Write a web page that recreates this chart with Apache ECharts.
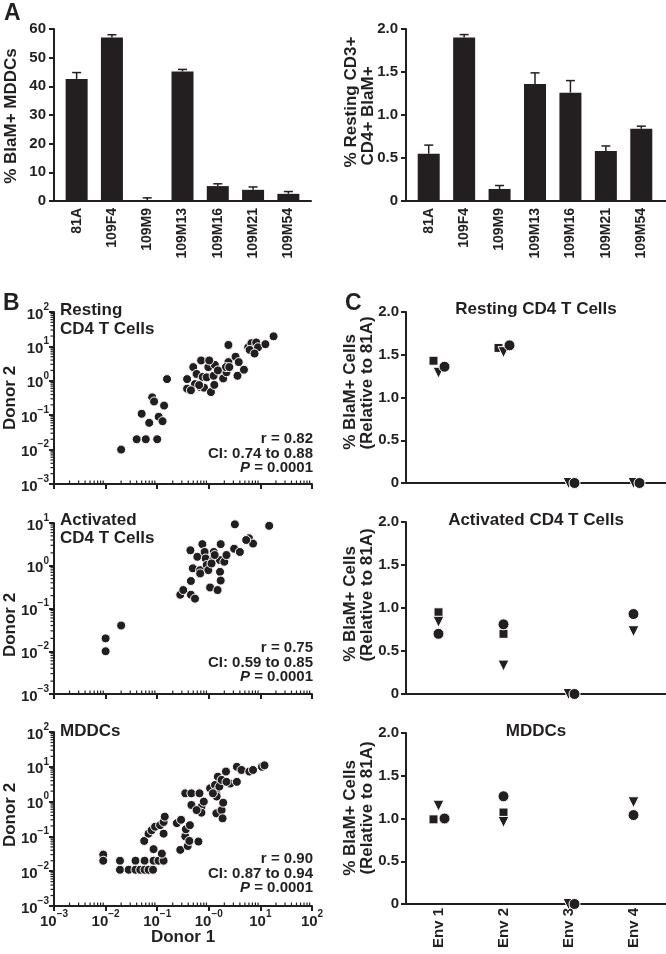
<!DOCTYPE html>
<html><head><meta charset="utf-8">
<script src="https://cdn.jsdelivr.net/npm/echarts@6/dist/echarts.min.js"></script>
<style>html,body{margin:0;padding:0;background:#fff}#c{width:666px;height:954px}</style>
</head><body><div id="c"></div><script>
const FONT = '"Liberation Sans", Arial, Helvetica, sans-serif';
const INK = '#231f20';

// ---- Panel A ----
const strains = ['81A','109F4','109M9','109M13','109M16','109M21','109M54'];
const mddcMean = [42.6, 57.0, 0.2, 45.2, 5.2, 3.9, 2.5];
const mddcSem  = [2.2, 1.0, 0.9, 0.7, 0.8, 1.0, 0.8];
const restMean = [0.55, 1.90, 0.14, 1.36, 1.26, 0.58, 0.84];
const restSem  = [0.10, 0.035, 0.04, 0.13, 0.14, 0.06, 0.03];

// ---- Panel B ----
const xSup = ['\u22123','\u22122','\u22121','\u22120','1','2'];
const ySup = ['\u22123','\u22122','\u22121','0','1','2'];
const restD1 = [0.02,0.04,0.06,0.10,0.05,0.07,0.08,0.087,0.107,0.127,0.136,0.155,0.38,0.38,0.5,0.71,0.58,0.76,0.68,0.54,0.98,0.91,0.81,1.1,1.28,1.31,1.02,1.9,2.2,2.4,2.4,2.15,3.3,3.6,3.8,4.8,5.8,6.7,7.2,8.3,9,12.5,18,6.2,7.7,1.24,1.5,2.5,0.45,0.65];
const restD2 = [0.01,0.02,0.02,0.02,0.11,0.06,0.33,0.25,0.09,0.067,0.19,1.12,1.12,0.59,2.5,3.9,1.58,1.3,0.66,0.8,2.5,1.26,0.63,0.47,0.76,2.9,3.9,1.17,1.77,11,3.5,2.5,5,1.4,3.5,2.1,9.4,12.4,8.2,13,9.4,11.6,19.6,7.9,6.2,1.4,2.0,2.5,0.53,0.75];
const actD1 = [0.01,0.01,0.02,0.28,0.32,0.45,0.54,0.45,0.44,0.49,0.6,0.68,0.75,0.83,0.87,0.91,0.98,1.06,1.25,1.22,1.64,1.7,1.65,1.7,1.48,2.0,2.2,3.2,3.1,4.0,6.0,7.2,14.8,1.3,1.13,0.68,5.3];
const actD2 = [0.02,0.01,0.04,0.21,0.27,0.21,0.17,0.44,2.3,0.87,1.62,0.79,3.2,2.1,1.48,1.04,0.79,0.31,2.1,1.36,1.36,3.2,0.72,0.45,0.27,1.24,1.78,9.3,2.5,2.1,4.4,3.3,8.6,1.78,1.13,0.66,4.0];
const mddcD1 = [0.009,0.009,0.019,0.019,0.028,0.038,0.038,0.047,0.057,0.057,0.068,0.083,0.085,0.106,0.133,0.123,0.085,0.056,0.068,0.078,0.091,0.114,0.133,0.14,0.133,0.28,0.24,0.29,0.35,0.36,0.39,0.43,0.42,0.35,0.46,0.46,0.66,0.72,0.72,0.8,0.63,1.06,1.32,1.5,1.37,1.42,1.6,1.77,1.4,1.77,1.9,1.85,2.15,2.6,3.5,3.5,4.3,6.1,7.2,10.7,12,2.2,1.2,0.58];
const mddcD2 = [0.03,0.02,0.02,0.011,0.011,0.02,0.011,0.011,0.02,0.011,0.011,0.011,0.02,0.02,0.02,0.032,0.043,0.074,0.12,0.15,0.19,0.21,0.26,0.37,0.12,0.041,0.24,0.3,0.1,0.16,0.053,0.21,0.074,1.73,1.73,0.8,1.73,0.71,0.48,1.0,0.071,2.4,3.0,5.2,1.9,1.4,2.7,4.2,0.46,0.57,0.93,0.33,7.3,3.3,10,3.7,8.1,7.3,8.1,10,11,3.7,1.73,0.57];
const statsB = [['r = 0.82','CI: 0.74 to 0.88'],['r = 0.75','CI: 0.59 to 0.85'],['r = 0.90','CI: 0.87 to 0.94']];

// ---- Panel C ----
const envs = ['Env 1','Env 2','Env 3','Env 4'];
const cRestSq  = [1.43, 1.58, null, null];
const cRestTri = [1.29, 1.53, 0, 0];
const cRestCir = [1.36, 1.61, 0, 0];
const cActSq   = [0.95, 0.70, null, null];
const cActTri  = [0.84, 0.33, 0, 0.73];
const cActCir  = [0.70, 0.81, 0, 0.93];
const cMddSq   = [0.99, 1.07, null, null];
const cMddTri  = [1.15, 0.96, 0, 1.19];
const cMddCir  = [1.00, 1.26, 0, 1.04];

const txt = (size, extra) => Object.assign({fontFamily: FONT, fontWeight: 'bold', fontSize: size, color: INK}, extra || {});
const axLine = {show: true, lineStyle: {color: INK, width: 2}};
const fmt1 = v => v === 0 ? '0' : v.toFixed(1);

const grids = [
  {left: 54, top: 29, width: 257, height: 172},   // 0 deco A left
  {left: 59, top: 29, width: 247, height: 172},   // 1 bars A left
  {left: 406, top: 29, width: 260, height: 172},  // 2 deco A right
  {left: 411, top: 29, width: 248, height: 172},  // 3 bars A right
  {left: 54, top: 312, width: 258, height: 172},  // 4 B1
  {left: 54, top: 523, width: 258, height: 171},  // 5 B2
  {left: 54, top: 732, width: 258, height: 174},  // 6 B3
  {left: 406, top: 312, width: 262, height: 171}, // 7 C1
  {left: 406, top: 522, width: 262, height: 172}, // 8 C2
  {left: 406, top: 733, width: 262, height: 171}  // 9 C3
];

const xAxes = [], yAxes = [];
// A left
xAxes.push({gridIndex: 0, type: 'value', min: 0, max: 1, axisLine: axLine, axisTick: {show: false}, axisLabel: {show: false}, splitLine: {show: false}});
yAxes.push({gridIndex: 0, type: 'value', min: 0, max: 60, interval: 10, axisLine: axLine, axisTick: {show: true, length: 5, lineStyle: {width: 2, color: INK}}, axisLabel: txt(15, {margin: 8}), splitLine: {show: false}});
xAxes.push({gridIndex: 1, type: 'category', data: strains, axisLine: {show: false}, axisTick: {show: false}, axisLabel: txt(14, {rotate: 90, margin: 7, interval: 0})});
yAxes.push({gridIndex: 1, type: 'value', min: 0, max: 60, show: false});
// A right
xAxes.push({gridIndex: 2, type: 'value', min: 0, max: 1, axisLine: axLine, axisTick: {show: false}, axisLabel: {show: false}, splitLine: {show: false}});
yAxes.push({gridIndex: 2, type: 'value', min: 0, max: 2, interval: 0.5, axisLine: axLine, axisTick: {show: true, length: 5, lineStyle: {width: 2, color: INK}}, axisLabel: txt(15, {margin: 8, formatter: fmt1}), splitLine: {show: false}});
xAxes.push({gridIndex: 3, type: 'category', data: strains, axisLine: {show: false}, axisTick: {show: false}, axisLabel: txt(14, {rotate: 90, margin: 7, interval: 0})});
yAxes.push({gridIndex: 3, type: 'value', min: 0, max: 2, show: false});

// B
const supRich = {
  b: {fontFamily: FONT, fontWeight: 'bold', fontSize: 15, color: INK, verticalAlign: 'bottom', padding: [5, 0, 0, 0]},
  s: {fontFamily: FONT, fontWeight: 'bold', fontSize: 10, color: INK, verticalAlign: 'top'}
};
const yMaxB = [100, 10, 100];
for (let g = 0; g < 3; g++) {
  xAxes.push({gridIndex: 4 + g, type: 'log', logBase: 10, min: 0.001, max: 100, splitNumber: 5,
    axisLine: axLine, axisTick: {show: true, length: 5, lineStyle: {width: 2, color: INK}},
    axisLabel: g === 2 ? {show: true, margin: 3, rich: supRich, formatter: v => '{b|10}{s|' + xSup[Math.round(Math.log10(v)) + 3] + '}'} : {show: false},
    splitLine: {show: false}, minorTick: {show: false}});
  yAxes.push({gridIndex: 4 + g, type: 'log', logBase: 10, min: 0.001, max: yMaxB[g], splitNumber: 5,
    axisLine: axLine, axisTick: {show: true, length: 5, lineStyle: {width: 2, color: INK}},
    axisLabel: {show: true, margin: 5, rich: supRich, formatter: v => '{b|10}{s|' + ySup[Math.round(Math.log10(v)) + 3] + '}'},
    splitLine: {show: false}});
}
// C
for (let g = 0; g < 3; g++) {
  xAxes.push({gridIndex: 7 + g, type: 'category', data: envs, axisLine: axLine, axisTick: {show: false},
    axisLabel: g === 2 ? txt(15, {rotate: 90, margin: 4, interval: 0, padding: [0, 0, 11, 0]}) : {show: false}});
  yAxes.push({gridIndex: 7 + g, type: 'value', min: 0, max: 2, interval: 0.5, axisLine: axLine,
    axisTick: {show: true, length: 5, lineStyle: {width: 2, color: INK}}, axisLabel: txt(15, {margin: 7, formatter: fmt1}), splitLine: {show: false}});
}

const series = [];
function errSeries(ax, means, sems) {
  return {type: 'custom', xAxisIndex: ax, yAxisIndex: ax, silent: true, z: 3,
    data: means.map((m, i) => [i, m, m + sems[i]]),
    renderItem(p, api) {
      const a = api.coord([api.value(0), api.value(1)]);
      const b = api.coord([api.value(0), api.value(2)]);
      return {type: 'group', children: [
        {type: 'line', shape: {x1: a[0], y1: a[1], x2: b[0], y2: b[1]}, style: {stroke: INK, lineWidth: 1.5}},
        {type: 'line', shape: {x1: b[0] - 4.5, y1: b[1], x2: b[0] + 4.5, y2: b[1]}, style: {stroke: INK, lineWidth: 1.5}}
      ]};
    }};
}
series.push({type: 'bar', xAxisIndex: 1, yAxisIndex: 1, data: mddcMean, barWidth: 22, itemStyle: {color: INK}, silent: true});
series.push(errSeries(1, mddcMean, mddcSem));
series.push({type: 'bar', xAxisIndex: 3, yAxisIndex: 3, data: restMean, barWidth: 22, itemStyle: {color: INK}, silent: true});
series.push(errSeries(3, restMean, restSem));

function minorVals(lo, hi) {
  const out = [];
  for (let e = Math.round(Math.log10(lo)); e < Math.round(Math.log10(hi)); e++)
    for (let m = 2; m <= 9; m++) out.push(m * Math.pow(10, e));
  return out;
}
const bPairs = [[restD1, restD2], [actD1, actD2], [mddcD1, mddcD2]];
for (let g = 0; g < 3; g++) {
  const ys = minorVals(0.001, yMaxB[g]).map(v => [0.001, v, 0]);
  const xs = minorVals(0.001, 100).map(v => [v, 0.001, 1]);
  series.push({type: 'custom', xAxisIndex: 4 + g, yAxisIndex: 4 + g, silent: true, data: ys.concat(xs),
    renderItem(p, api) {
      const pt = api.coord([api.value(0), api.value(1)]);
      const shape = api.value(2) === 0 ? {x1: pt[0] - 3.5, y1: pt[1], x2: pt[0], y2: pt[1]} : {x1: pt[0], y1: pt[1], x2: pt[0], y2: pt[1] - 3.5};
      return {type: 'line', shape, style: {stroke: INK, lineWidth: 1.2}};
    }});
  const [d1, d2] = bPairs[g];
  series.push({type: 'scatter', xAxisIndex: 4 + g, yAxisIndex: 4 + g, symbolSize: 9, silent: true,
    itemStyle: {color: INK, borderColor: '#fff', borderWidth: 1, opacity: 1},
    data: d1.map((x, i) => [x, d2[i]])});
}

const cSets = [[cRestSq, cRestTri, cRestCir], [cActSq, cActTri, cActCir], [cMddSq, cMddTri, cMddCir]];
const cSym = [{symbol: 'rect', size: 9, rot: 0, dx: -5}, {symbol: 'triangle', size: 11, rot: 180, dx: 0}, {symbol: 'circle', size: 11, rot: 0, dx: 6}];
for (let g = 0; g < 3; g++) {
  const set = cSets[g];
  set.forEach((arr, k) => {
    const data = [];
    arr.forEach((v, i) => {
      if (v == null) return;
      let overlap = false;
      set.forEach((o, j) => { if (j !== k && o[i] != null && Math.abs(o[i] - v) < 0.1) overlap = true; });
      data.push({value: [i, v], symbolOffset: [overlap ? cSym[k].dx : 0, 0]});
    });
    series.push({type: 'scatter', xAxisIndex: 7 + g, yAxisIndex: 7 + g, symbol: cSym[k].symbol, symbolSize: cSym[k].size,
      symbolRotate: cSym[k].rot, silent: true, itemStyle: {color: INK, borderColor: '#fff', borderWidth: 1, opacity: 1}, data});
  });
}

function T(text, x, y, size, opts) {
  opts = opts || {};
  return {type: 'text', x, y, rotation: opts.rot || 0, silent: true,
    style: {text, fill: INK, font: 'bold ' + size + 'px ' + FONT,
      align: opts.align || 'center', verticalAlign: 'middle', textAlign: opts.align || 'center', textVerticalAlign: 'middle'}};
}
const R = Math.PI / 2;
const graphics = [
  T('A', 4, 14, 23, {align: 'left'}),
  T('B', 3, 304, 23, {align: 'left'}),
  T('C', 345, 304, 23, {align: 'left'}),
  T('% BlaM+ MDDCs', 11, 116, 17, {rot: R}),
  T('% Resting CD3+', 351, 102, 17, {rot: R}),
  T('CD4+ BlaM+', 368, 116, 17, {rot: R}),
  T('Donor 2', 10, 398, 17, {rot: R}),
  T('Donor 2', 10, 625, 17, {rot: R}),
  T('Donor 2', 10, 815, 17, {rot: R}),
  T('Donor 1', 183, 937, 17),
  T('Resting', 60, 310, 17, {align: 'left'}),
  T('CD4 T Cells', 60, 329, 17, {align: 'left'}),
  T('Activated', 60, 520, 17, {align: 'left'}),
  T('CD4 T Cells', 60, 538, 17, {align: 'left'}),
  T('MDDCs', 60, 731, 17, {align: 'left'}),
  T('Resting CD4 T Cells', 536, 309, 17),
  T('Activated CD4 T Cells', 536, 520, 17),
  T('MDDCs', 536, 731, 17)
];
const cTitleY = [[392, 383], [604, 595], [818, 808]];
cTitleY.forEach(([a, b]) => {
  graphics.push(T('% BlaM+ Cells', 350, a, 17, {rot: R}));
  graphics.push(T('(Relative to 81A)', 367, b, 17, {rot: R}));
});
const statY = [439, 648, 859];
statY.forEach((y0, g) => {
  graphics.push(T(statsB[g][0], 313, y0, 15, {align: 'right'}));
  graphics.push(T(statsB[g][1], 313, y0 + 14.5, 15, {align: 'right'}));
  graphics.push({type: 'text', x: 313, y: y0 + 29, silent: true, style: {
    text: '{i|P}{n| = 0.0001}', align: 'right', verticalAlign: 'middle', textAlign: 'right', textVerticalAlign: 'middle',
    rich: {i: {fontFamily: FONT, fontWeight: 'bold', fontStyle: 'italic', fontSize: 15, fill: INK},
           n: {fontFamily: FONT, fontWeight: 'bold', fontSize: 15, fill: INK}}}});
});

const chart = echarts.init(document.getElementById('c'), null, {renderer: 'canvas'});
chart.setOption({animation: false, backgroundColor: '#fff', grid: grids, xAxis: xAxes, yAxis: yAxes, series, graphic: graphics});
</script></body></html>
